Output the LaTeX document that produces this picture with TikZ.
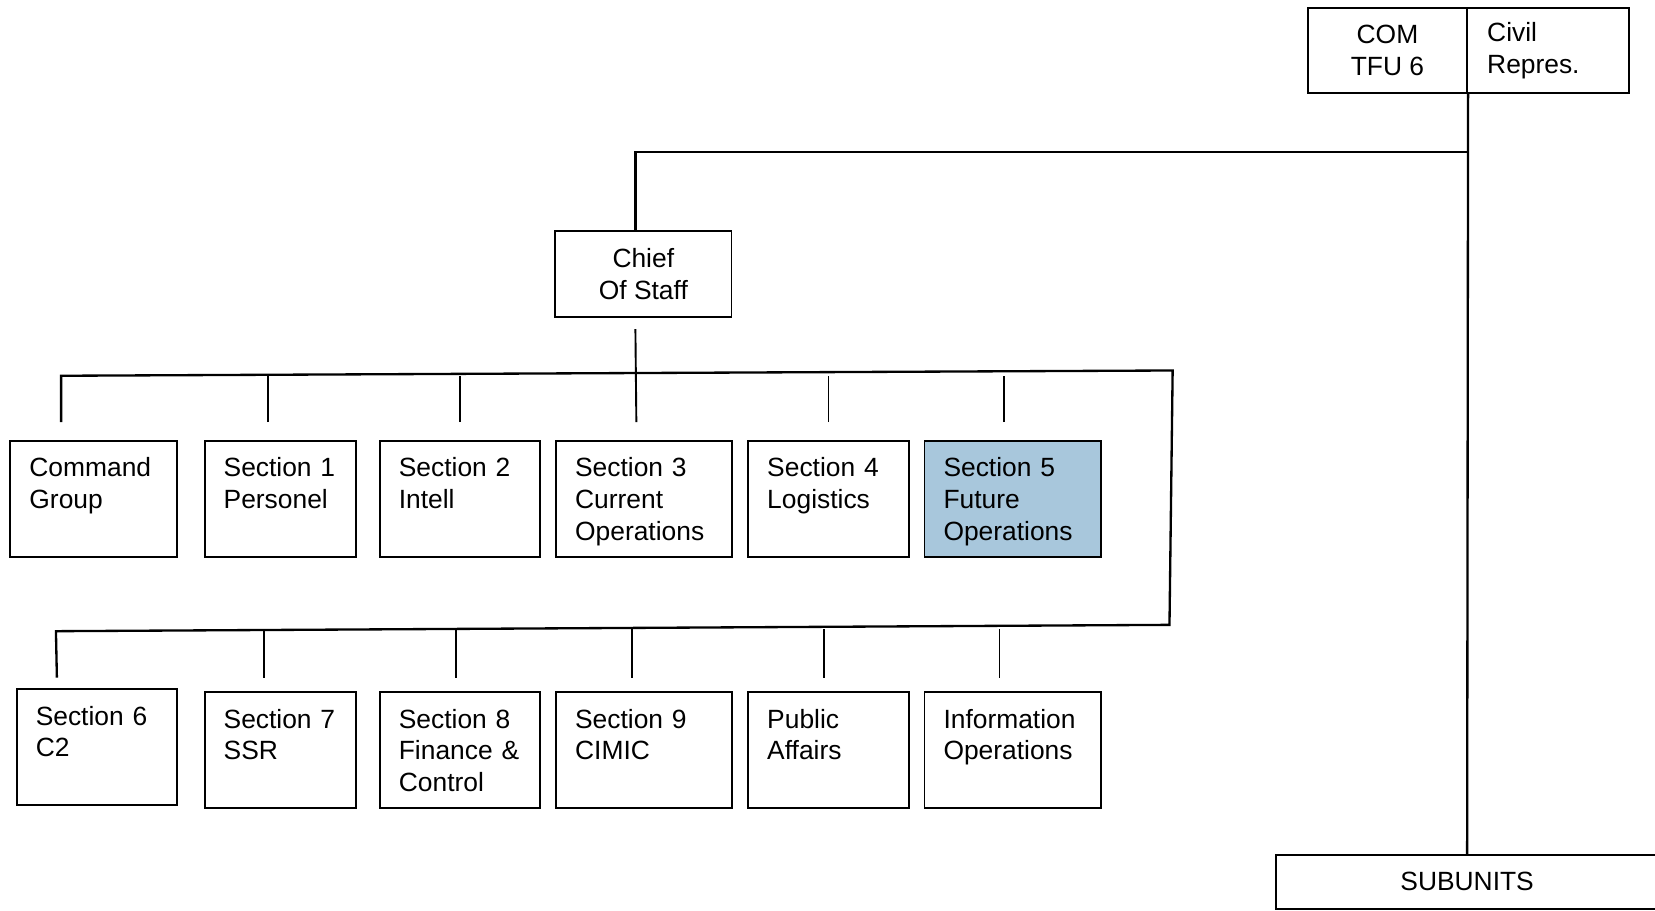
\documentclass[tikz,border=0pt]{standalone}
\usepackage{fontspec}
\setmainfont{Liberation Sans}
\usepackage{tikz}
\usepackage{xcolor}

\definecolor{unitblue}{RGB}{168,199,220}

\tikzset{
  unit/.style={draw, line width=1.8pt, anchor=north west, align=left,
    inner xsep=18pt, inner ysep=16pt, text height=18pt, text depth=60pt},
  head/.style={draw, line width=1.8pt, align=center, inner sep=0pt},
  bus/.style={line width=2.2pt},
  drop/.style={line width=1.8pt}
}

\begin{document}
\begin{tikzpicture}[x=1pt, y=-1pt, font=\fontsize{25}{30}\selectfont]
            \useasboundingbox (0,0) rectangle (1568,863);

            % command
            \node[head, minimum width=151pt, minimum height=80pt] (com) at (1314.5,48) {COM\\TFU 6};
            \node[head, align=left, text width=115pt, inner xsep=19pt, minimum height=80pt] (civ) at (1466.5,48) {Civil\\Repres.};
            \node[head, minimum width=167pt, minimum height=81pt] (cos) at (609.5,259.5) {Chief\\Of Staff};
            \node[head, minimum width=362pt, minimum height=51pt] (sub) at (1390,835.5) {SUBUNITS};

            % first row
            \node[unit, text width=122pt] (cg) at (9,417) {Command\\Group};
            \node[unit, text width=107pt] (s1) at (193,417) {Section 1\\Personel};
            \node[unit, text width=116pt] (s2) at (359,417) {Section 2\\Intell};
            \node[unit, text width=131pt] (s3) at (526,417) {Section 3\\Current\\Operations};
            \node[unit, text width=116pt] (s4) at (708,417) {Section 4\\Logistics};
            \node[unit, text width=131pt, fill=unitblue] (s5) at (875,417) {Section 5\\Future\\Operations};

            % second row
            \node[unit, text width=116pt] (s6) at (15,652) {Section 6\\C2};
            \node[unit, text width=107pt] (s7) at (193,655) {Section 7\\SSR};
            \node[unit, text width=116pt] (s8) at (359,655) {Section 8\\Finance \&\\Control};
            \node[unit, text width=131pt] (s9) at (526,655) {Section 9\\CIMIC};
            \node[unit, text width=116pt] (pa) at (708,655) {Public\\Affairs};
            \node[unit, text width=131pt] (io) at (875,655) {Information\\Operations};

            \coordinate (jn) at (1390,144);
            \coordinate (r1) at (1111,351);
            \coordinate (r2) at (1108,592);
            \coordinate (l2) at (53,598);

            \draw[bus] ([xshift=-7.5pt]cos.north) |- (jn);
            \draw[bus] (com.south east) -- (sub.north);
            \draw[drop] ([xshift=-7.5pt, yshift=-11pt]cos.south) -- ([xshift=-7.5pt, yshift=17pt]s3.north);
            \draw[bus] ([xshift=-31pt, yshift=17pt]cg.north) -- ++(0,-44) -- (r1) -- (r2) -- (l2) -- ([xshift=-38pt, yshift=10pt]s6.north);

            \foreach \n/\dx in {s1/-11.5, s2/0, s4/0, s5/-8.5}
                \draw[drop] ([xshift=\dx pt, yshift=17pt]\n.north) -- ++(0,-44);
            \foreach \n/\dx in {s7/-15.5, s8/-4, s9/-11.5, pa/-4, io/-12.5}
                \draw[drop] ([xshift=\dx pt, yshift=13pt]\n.north) -- ++(0,-46);
        \end{tikzpicture}
\end{document}
